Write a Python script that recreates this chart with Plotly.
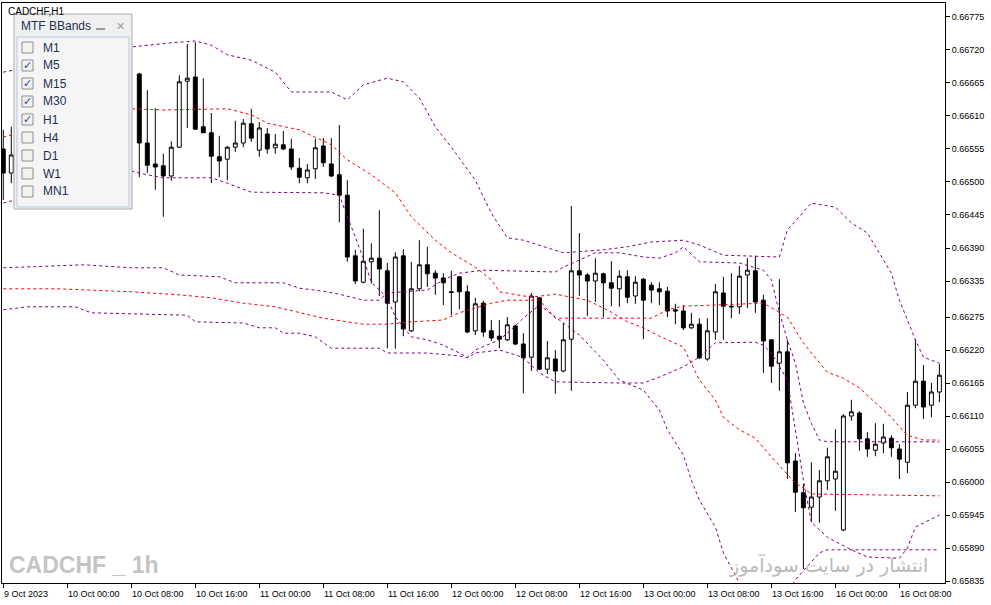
import plotly.graph_objects as go

# CADCHF H1, bar 0 = 9 Oct 2023 16:00 ... bar 117 = 16 Oct 2023 13:00
# bars 2..16 are hidden under the indicator panel -> left empty
N = None
opens = [0.66555, 0.66515] + [N] * 15 + [
    0.66680, 0.66565, 0.66530, 0.66527, 0.66510, 0.66558, 0.66668, 0.66675, 0.66592, 0.66582,
    0.66542, 0.66538, 0.66558, 0.66565, 0.66597, 0.66553, 0.66580, 0.66557, 0.66562, 0.66555,
    0.66523, 0.66507, 0.66522, 0.66560, 0.66530, 0.66512, 0.66478, 0.66377, 0.66333, 0.66367,
    0.66373, 0.66352, 0.66300, 0.66377, 0.66252, 0.66322, 0.66362, 0.66348, 0.66340, 0.66317,
    0.66342, 0.66317, 0.66252, 0.66298, 0.66252, 0.66243, 0.66237, 0.66260, 0.66230, 0.66208,
    0.66307, 0.66188, 0.66205, 0.66185, 0.66238, 0.66352, 0.66345, 0.66335, 0.66347, 0.66332,
    0.66322, 0.66342, 0.66310, 0.66338, 0.66328, 0.66322, 0.66318, 0.66287, 0.66285, 0.66257,
    0.66263, 0.66205, 0.66250, 0.66315, 0.66293, 0.66292, 0.66345, 0.66352, 0.66303, 0.66237,
    0.66198, 0.66217, 0.66035, 0.65982, 0.65958, 0.65975, 0.66002, 0.66005, 0.65920, 0.66110,
    0.66115, 0.66072, 0.66053, 0.66065, 0.66073, 0.66055, 0.66033, 0.66128, 0.66168, 0.66128,
    0.66150]
highs = [0.66587, 0.66592] + [N] * 15 + [
    0.66682, 0.66653, 0.66623, 0.66547, 0.66568, 0.66678, 0.66730, 0.66733, 0.66673, 0.66615,
    0.66577, 0.66560, 0.66602, 0.66605, 0.66622, 0.66600, 0.66590, 0.66580, 0.66585, 0.66572,
    0.66540, 0.66530, 0.66572, 0.66573, 0.66573, 0.66595, 0.66503, 0.66387, 0.66422, 0.66398,
    0.66453, 0.66365, 0.66383, 0.66388, 0.66367, 0.66403, 0.66392, 0.66353, 0.66348, 0.66352,
    0.66343, 0.66328, 0.66307, 0.66302, 0.66270, 0.66270, 0.66275, 0.66262, 0.66248, 0.66315,
    0.66308, 0.66235, 0.66220, 0.66265, 0.66460, 0.66415, 0.66348, 0.66373, 0.66349, 0.66368,
    0.66353, 0.66353, 0.66343, 0.66340, 0.66333, 0.66333, 0.66325, 0.66297, 0.66295, 0.66282,
    0.66273, 0.66273, 0.66330, 0.66342, 0.66348, 0.66360, 0.66373, 0.66377, 0.66312, 0.66238,
    0.66338, 0.66237, 0.66048, 0.65997, 0.66033, 0.66020, 0.66057, 0.66088, 0.66113, 0.66137,
    0.66118, 0.66083, 0.66098, 0.66097, 0.66078, 0.66063, 0.66150, 0.66238, 0.66195, 0.66165,
    0.66197]
lows = [0.66470, 0.66498] + [N] * 15 + [
    0.66508, 0.66515, 0.66487, 0.66442, 0.66502, 0.66557, 0.66590, 0.66587, 0.66582, 0.66498,
    0.66508, 0.66503, 0.66550, 0.66558, 0.66567, 0.66542, 0.66547, 0.66547, 0.66553, 0.66520,
    0.66498, 0.66498, 0.66505, 0.66525, 0.66508, 0.66433, 0.66367, 0.66330, 0.66331, 0.66331,
    0.66310, 0.66223, 0.66222, 0.66243, 0.66250, 0.66318, 0.66325, 0.66312, 0.66295, 0.66278,
    0.66288, 0.66248, 0.66245, 0.66242, 0.66235, 0.66223, 0.66235, 0.66228, 0.66148, 0.66185,
    0.66187, 0.66180, 0.66147, 0.66183, 0.66152, 0.66310, 0.66277, 0.66300, 0.66275, 0.66293,
    0.66292, 0.66298, 0.66297, 0.66238, 0.66298, 0.66295, 0.66275, 0.66263, 0.66253, 0.66255,
    0.66205, 0.66202, 0.66237, 0.66237, 0.66273, 0.66280, 0.66290, 0.66282, 0.66182, 0.66165,
    0.66152, 0.66005, 0.65950, 0.65855, 0.65933, 0.65932, 0.65987, 0.65952, 0.65918, 0.66102,
    0.66052, 0.66042, 0.66043, 0.66048, 0.66042, 0.66005, 0.66015, 0.66123, 0.66105, 0.66108,
    0.66133]
closes = [0.66515, 0.66545] + [N] * 15 + [
    0.66565, 0.66528, 0.66525, 0.66510, 0.66558, 0.66667, 0.66673, 0.66588, 0.66582, 0.66543,
    0.66535, 0.66558, 0.66565, 0.66598, 0.66573, 0.66590, 0.66555, 0.66563, 0.66555, 0.66525,
    0.66508, 0.66520, 0.66557, 0.66532, 0.66510, 0.66478, 0.66375, 0.66335, 0.66368, 0.66373,
    0.66355, 0.66298, 0.66375, 0.66255, 0.66322, 0.66362, 0.66347, 0.66340, 0.66332, 0.66316,
    0.66317, 0.66250, 0.66297, 0.66250, 0.66240, 0.66238, 0.66262, 0.66230, 0.66207, 0.66310,
    0.66188, 0.66207, 0.66185, 0.66237, 0.66352, 0.66345, 0.66335, 0.66348, 0.66332, 0.66323,
    0.66343, 0.66308, 0.66333, 0.66303, 0.66320, 0.66317, 0.66285, 0.66285, 0.66257, 0.66263,
    0.66207, 0.66252, 0.66317, 0.66293, 0.66292, 0.66343, 0.66353, 0.66300, 0.66235, 0.66193,
    0.66217, 0.66032, 0.65983, 0.65957, 0.65975, 0.66002, 0.66042, 0.66018, 0.66110, 0.66117,
    0.66072, 0.66055, 0.66063, 0.66075, 0.66057, 0.66038, 0.66128, 0.66168, 0.66125, 0.66150,
    0.66178]
bars = list(range(len(opens)))

# MTF bollinger band lines (bar index, price)
purple_top_idx = [0, 16, 21, 24, 26, 28, 31, 34, 36, 41, 43, 45, 48, 50, 52, 54, 56, 59, 61, 63,
                  65, 70, 75, 78, 81, 85, 87, 90, 97, 98, 101, 104, 106, 108, 111, 112, 114, 115, 117]
purple_top_val = [0.66683, 0.66725, 0.66732, 0.66735, 0.66728, 0.66712, 0.66703, 0.66683, 0.66650,
                  0.66650, 0.66637, 0.66662, 0.66673, 0.66667, 0.66640, 0.66592, 0.66558, 0.66503,
                  0.66448, 0.66407, 0.66403, 0.66382, 0.66387, 0.66392, 0.66400, 0.66403, 0.66395,
                  0.66378, 0.66375, 0.66420, 0.66465, 0.66458, 0.66432, 0.66415, 0.66348, 0.66303,
                  0.66237, 0.66208, 0.66198]

purple_mid_idx = [0, 10, 16, 20, 22, 27, 29, 35, 37, 40, 42, 45, 47, 48, 53, 55, 57, 60, 69, 70,
                  72, 74, 77, 80, 82, 84, 85, 87, 92, 95, 96, 97, 98, 99, 100, 101, 102, 103, 117]
purple_mid_val = [0.66357, 0.66362, 0.66357, 0.66357, 0.66345, 0.66342, 0.66332, 0.66332, 0.66323,
                  0.66318, 0.66313, 0.66303, 0.66303, 0.66315, 0.66320, 0.66337, 0.66348, 0.66353,
                  0.66350, 0.66358, 0.66370, 0.66382, 0.66382, 0.66375, 0.66373, 0.66382, 0.66392,
                  0.66367, 0.66365, 0.66353, 0.66337, 0.66282, 0.66237, 0.66198, 0.66132, 0.66098,
                  0.66070, 0.66067, 0.66067]

purple_low_idx = [0, 16, 18, 20, 26, 28, 31, 35, 40, 42, 43, 44, 45, 46, 48, 49, 51, 53, 55, 57,
                  58, 59, 62, 63, 65, 67, 69, 72, 75, 77, 80, 82, 83, 85, 86, 87, 89, 90, 92, 93,
                  98, 99, 101, 102, 103, 117]
purple_low_val = [0.66465, 0.66518, 0.66512, 0.66507, 0.66507, 0.66498, 0.66483, 0.66483, 0.66482,
                  0.66478, 0.66442, 0.66408, 0.66373, 0.66333, 0.66307, 0.66275, 0.66242, 0.66237,
                  0.66228, 0.66215, 0.66208, 0.66220, 0.66237, 0.66248, 0.66273, 0.66295, 0.66275,
                  0.66245, 0.66203, 0.66170, 0.66153, 0.66120, 0.66087, 0.66045, 0.66003, 0.65970,
                  0.65925, 0.65882, 0.65832, 0.65812, 0.65812, 0.65837, 0.65867, 0.65882, 0.65887,
                  0.65887]

purple_bot_idx = [0, 3, 9, 11, 23, 24, 30, 32, 34, 35, 37, 39, 41, 47, 48, 53, 57, 58, 59, 62,
                  64, 65, 67, 69, 77, 80, 82, 85, 87, 89, 94, 95, 96, 98, 99, 100, 101, 103, 106,
                  108, 112, 113, 114, 117]
purple_bot_val = [0.66287, 0.66292, 0.66292, 0.66282, 0.66278, 0.66267, 0.66265, 0.66257, 0.66257,
                  0.66248, 0.66248, 0.66242, 0.66223, 0.66223, 0.66215, 0.66215, 0.66210, 0.66207,
                  0.66215, 0.66220, 0.66212, 0.66207, 0.66182, 0.66167, 0.66165, 0.66165, 0.66175,
                  0.66192, 0.66208, 0.66232, 0.66233, 0.66228, 0.66215, 0.66170, 0.66087, 0.66003,
                  0.65933, 0.65908, 0.65887, 0.65875, 0.65873, 0.65890, 0.65925, 0.65945]

red_a_idx = [0, 16, 20, 28, 31, 33, 37, 39, 41, 43, 46, 49, 51, 54, 56, 59, 61, 62, 66, 69, 71,
             73, 75, 76, 78, 80, 82, 85, 87, 89, 90, 92, 94, 96, 99, 100, 101, 117]
red_a_val = [0.66575, 0.66622, 0.66620, 0.66622, 0.66612, 0.66598, 0.66587, 0.66575, 0.66562,
             0.66537, 0.66512, 0.66482, 0.66442, 0.66403, 0.66382, 0.66358, 0.66337, 0.66317,
             0.66308, 0.66313, 0.66308, 0.66303, 0.66290, 0.66283, 0.66267, 0.66257, 0.66243,
             0.66225, 0.66170, 0.66137, 0.66108, 0.66087, 0.66073, 0.66042, 0.65998, 0.65990,
             0.65980, 0.65977]

red_b_idx = [0, 7, 16, 22, 26, 30, 34, 37, 40, 45, 48, 51, 55, 57, 61, 63, 67, 69, 81, 83, 85,
             95, 96, 98, 99, 100, 101, 103, 105, 107, 109, 111, 112, 113, 115, 117]
red_b_val = [0.66322, 0.66322, 0.66317, 0.66312, 0.66307, 0.66298, 0.66292, 0.66283, 0.66273,
             0.66263, 0.66263, 0.66267, 0.66270, 0.66282, 0.66298, 0.66303, 0.66303, 0.66273,
             0.66273, 0.66287, 0.66293, 0.66298, 0.66290, 0.66275, 0.66253, 0.66232, 0.66215,
             0.66183, 0.66173, 0.66157, 0.66132, 0.66108, 0.66092, 0.66078, 0.66070, 0.66070]

price_ticks = [0.66775, 0.66720, 0.66665, 0.66610, 0.66555, 0.66500, 0.66445, 0.66390, 0.66335,
               0.66275, 0.66220, 0.66165, 0.66110, 0.66055, 0.66000, 0.65945, 0.65890, 0.65835]
time_idx = [0, 8, 16, 24, 32, 40, 48, 56, 64, 72, 80, 88, 96, 104, 112]
time_labels = ["9 Oct 2023", "10 Oct 00:00", "10 Oct 08:00", "10 Oct 16:00", "11 Oct 00:00",
               "11 Oct 08:00", "11 Oct 16:00", "12 Oct 00:00", "12 Oct 08:00", "12 Oct 16:00",
               "13 Oct 00:00", "13 Oct 08:00", "13 Oct 16:00", "16 Oct 00:00", "16 Oct 08:00"]
timeframes = ["M1", "M5", "M15", "M30", "H1", "H4", "D1", "W1", "MN1"]
checked = [False, True, True, True, True, False, False, False, False]

PURPLE = "#800080"
RED = "#ff0000"

fig = go.Figure()

for ix, vals, col in [(purple_top_idx, purple_top_val, PURPLE),
                      (purple_mid_idx, purple_mid_val, PURPLE),
                      (purple_low_idx, purple_low_val, PURPLE),
                      (purple_bot_idx, purple_bot_val, PURPLE),
                      (red_a_idx, red_a_val, RED),
                      (red_b_idx, red_b_val, RED)]:
    fig.add_trace(go.Scatter(x=ix, y=vals, mode="lines", hoverinfo="skip",
                             line=dict(color=col, width=1, dash="3px,3px")))

fig.add_trace(go.Candlestick(
    x=bars, open=opens, high=highs, low=lows, close=closes,
    increasing=dict(line=dict(color="black", width=1), fillcolor="white"),
    decreasing=dict(line=dict(color="black", width=1), fillcolor="black"),
    whiskerwidth=0,
))

# plot area in pixels: x 2..945, y 3..583
def px(x):
    return (x - 2) / 943.0

def py(y):
    return (583 - y) / 580.0

shapes = []
ann = []

# indicator panel
shapes.append(dict(type="rect", xref="paper", yref="paper", layer="above",
                   x0=px(14), x1=px(132), y0=py(209), y1=py(14),
                   fillcolor="#f0f0f0", line=dict(color="#a9a9a9", width=1)))
shapes.append(dict(type="rect", xref="paper", yref="paper", layer="above",
                   x0=px(17), x1=px(129), y0=py(207), y1=py(37),
                   fillcolor="#f5f5f5", line=dict(color="#b4c8dc", width=1)))
shapes.append(dict(type="line", xref="paper", yref="paper", layer="above",
                   x0=px(96), x1=px(105), y0=py(29), y1=py(29),
                   line=dict(color="#9a9a9a", width=2)))
ann.append(dict(text="MTF BBands", xref="paper", yref="paper", x=px(19), y=py(26),
                xanchor="left", yanchor="middle", showarrow=False,
                font=dict(family="Liberation Sans", size=12, color="#1e2f55")))
ann.append(dict(text="✕", xref="paper", yref="paper", x=px(120), y=py(26),
                xanchor="center", yanchor="middle", showarrow=False,
                font=dict(family="DejaVu Sans", size=11, color="#a0a0a0")))
for i, (tf, on) in enumerate(zip(timeframes, checked)):
    cy = 47.5 + 18 * i
    shapes.append(dict(type="rect", xref="paper", yref="paper", layer="above",
                       x0=px(22), x1=px(33), y0=py(cy + 5.5), y1=py(cy - 5.5),
                       fillcolor="#f2f2f2", line=dict(color="#8f8f8f", width=1)))
    if on:
        ann.append(dict(text="✓", xref="paper", yref="paper", x=px(27.5), y=py(cy),
                        xanchor="center", yanchor="middle", showarrow=False,
                        font=dict(family="DejaVu Sans", size=11, color="#33479a")))
    ann.append(dict(text=tf, xref="paper", yref="paper", x=px(41), y=py(cy),
                    xanchor="left", yanchor="middle", showarrow=False,
                    font=dict(family="Liberation Sans", size=12, color="#1e2f55")))

ann.append(dict(text="CADCHF,H1", xref="paper", yref="paper", x=px(6), y=py(4),
                xanchor="left", yanchor="top", showarrow=False,
                font=dict(family="Liberation Sans", size=10, color="black")))
ann.append(dict(text="<b>CADCHF _ 1h</b>", xref="paper", yref="paper", x=px(7), y=py(565),
                xanchor="left", yanchor="middle", showarrow=False,
                font=dict(family="Liberation Sans", size=23, color="#c4c4c4")))
ann.append(dict(text="انتشار در سایت سودآموز", xref="paper", yref="paper", x=px(930), y=py(565),
                xanchor="right", yanchor="middle", showarrow=False,
                font=dict(family="DejaVu Sans", size=19, color="#b9b9b9")))

for i, lab in zip(time_idx, time_labels):
    ann.append(dict(text=lab, x=i, xref="x", y=0, yref="paper", xanchor="left", yanchor="top",
                    yshift=-4, xshift=-1, showarrow=False,
                    font=dict(family="Liberation Sans", size=9, color="black")))

fig.update_layout(
    width=991, height=605,
    margin=dict(l=2, r=46, t=3, b=22),
    paper_bgcolor="white", plot_bgcolor="white",
    showlegend=False,
    shapes=shapes, annotations=ann,
    xaxis=dict(range=[-0.16, 117.7], rangeslider=dict(visible=False), showgrid=False,
               zeroline=False, showline=True, mirror=True, linecolor="black", linewidth=1,
               tickvals=time_idx, ticks="outside", ticklen=4, tickcolor="black",
               showticklabels=False),
    yaxis=dict(range=[0.658317, 0.667983], side="right", showgrid=False, zeroline=False,
               showline=True, mirror=True, linecolor="black", linewidth=1,
               tickvals=price_ticks, ticktext=["%.5f" % v for v in price_ticks],
               ticks="outside", ticklen=4, tickcolor="black",
               tickfont=dict(family="Liberation Sans", size=9, color="black")),
)

# page body has a default margin; drop it so the figure sits at 0,0
fig.write_html("out.html", config={"displayModeBar": False},
               post_script="document.body.style.margin='0';document.body.style.overflow='hidden';")
